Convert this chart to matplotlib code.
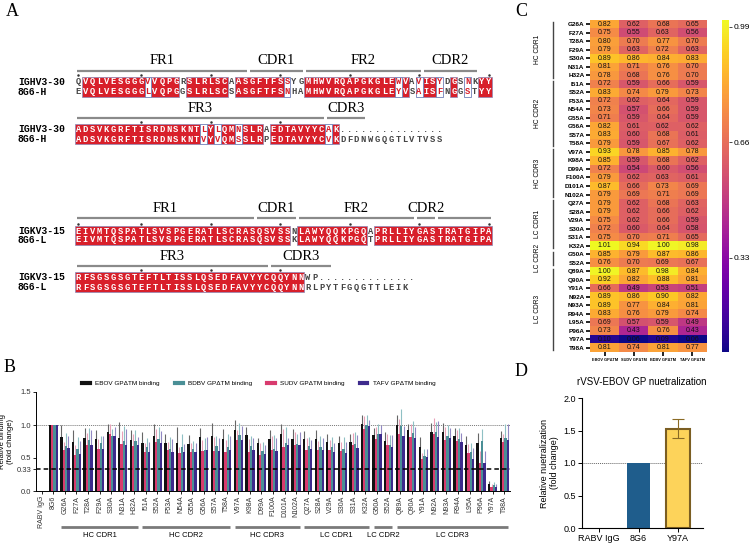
import numpy as np
import matplotlib
matplotlib.use("Agg")
import matplotlib.pyplot as plt
from matplotlib.patches import Rectangle
from matplotlib.lines import Line2D

plt.rcParams['font.family'] = ['Liberation Sans', 'DejaVu Sans']

# ---------------- data ----------------
# panel A: alignments (two wrapped lines per chain)
hc_names = ["IGHV3-30", "8G6-H"]
hc_ref = ["QVQLVESGGGVVQPGRSLRLSCAASGFTFSSYGMHWVRQAPGKGLEWVAVISYDGSNKYY",
          "ADSVKGRFTISRDNSKNTLYLQMNSLRAEDTAVYYCAK..............."]
hc_mut = ["EVQLVESGGGLVQPGGSLRLSCSASGFTFSNHAMHWVRQAPGKGLEYVSAISFNGGSTYY",
          "ADSVKGRFTISRDNSKNTVYVQMSSLRPEDTAVYYCVKDFDNWGQGTLVTVSS"]
hc_regions = [[("FR1", 0, 24), ("CDR1", 25, 32), ("FR2", 33, 49), ("CDR2", 50, 57)],
              [("FR3", 0, 35), ("CDR3", 36, 41)]]

lc_names = ["IGKV3-15", "8G6-L"]
lc_ref = ["EIVMTQSPATLSVSPGERATLSCRASQSVSSNLAWYQQKPGQAPRLLIYGASTRATGIPA",
          "RFSGSGSGTEFTLTISSLQSEDFAVYYCQQYNNWP.............."]
lc_mut = ["EIVMTQSPATLSVSPGERATLSCRASQSVSSKLAWYQQKPGQTPRLLIYGASTRATGIPA",
          "RFSGSGSGTEFTLTISSLQSEDFAVYYCQQYNNRLPYTFGQGTTLEIK"]
lc_regions = [[("FR1", 0, 25), ("CDR1", 26, 31), ("FR2", 32, 48), ("CDR2", 49, 51), ("", 52, 59)],
              [("FR3", 0, 27), ("CDR3", 28, 36)]]

similar_pairs = [{"V", "L"}, {"S", "N"}, {"W", "Y"}, {"V", "A"}, {"Y", "F"}]
dot_cols = [[0, 9, 19, 29, 39, 49, 59], [9, 19, 29]]

# panels B / C: binding
mutants = ["G26A", "F27A", "T28A", "F29A", "S30A", "N31A", "H32A",
           "I51A", "S52A", "F53A", "N54A", "G55A", "G56A", "S57A", "T58A",
           "V97A", "K98A", "D99A", "F100A", "D101A", "N102A",
           "Q27A", "S28A", "V29A", "S30A", "S31A", "K32A",
           "G50A", "S52A",
           "Q89A", "Q90A", "Y91A", "N92A", "N93A", "R94A", "L95A", "P96A", "Y97A", "T98A"]
groups = ["HC CDR1", "HC CDR2", "HC CDR3", "LC CDR1", "LC CDR2", "LC CDR3"]
group_sizes = [7, 8, 6, 6, 2, 10]

ebov = [0.82, 0.75, 0.80, 0.79, 0.89, 0.81, 0.78,
        0.72, 0.83, 0.72, 0.73, 0.71, 0.82, 0.83, 0.79,
        0.93, 0.85, 0.72, 0.79, 0.87, 0.79,
        0.79, 0.79, 0.75, 0.72, 0.75, 1.01,
        0.85, 0.76,
        1.00, 0.92, 0.66, 0.89, 0.89, 0.83, 0.69, 0.73, 0.10, 0.81]
sudv = [0.62, 0.55, 0.70, 0.63, 0.86, 0.71, 0.68,
        0.59, 0.74, 0.62, 0.57, 0.59, 0.61, 0.60, 0.59,
        0.78, 0.59, 0.54, 0.62, 0.66, 0.69,
        0.62, 0.62, 0.62, 0.60, 0.70, 0.94,
        0.79, 0.70,
        0.87, 0.82, 0.49, 0.86, 0.77, 0.76, 0.57, 0.43, 0.06, 0.74]
bdbv = [0.68, 0.63, 0.77, 0.72, 0.84, 0.76, 0.76,
        0.66, 0.79, 0.64, 0.66, 0.64, 0.62, 0.68, 0.67,
        0.85, 0.68, 0.60, 0.63, 0.73, 0.71,
        0.68, 0.66, 0.66, 0.64, 0.71, 1.00,
        0.87, 0.69,
        0.98, 0.88, 0.53, 0.90, 0.84, 0.79, 0.59, 0.76, 0.09, 0.81]
tafv = [0.65, 0.56, 0.70, 0.63, 0.83, 0.70, 0.70,
        0.59, 0.73, 0.59, 0.59, 0.59, 0.62, 0.61, 0.62,
        0.78, 0.62, 0.56, 0.61, 0.69, 0.69,
        0.63, 0.62, 0.59, 0.58, 0.65, 0.98,
        0.86, 0.67,
        0.84, 0.81, 0.51, 0.82, 0.81, 0.74, 0.49, 0.43, 0.06, 0.77]

ebov_err = [0.18, 0.17, 0.16, 0.14, 0.13, 0.24, 0.14, 0.17, 0.19, 0.15, 0.24, 0.14, 0.13, 0.20, 0.15,
            0.14, 0.12, 0.08, 0.14, 0.14, 0.15, 0.12, 0.13, 0.12, 0.12, 0.12, 0.14, 0.10, 0.14,
            0.15, 0.10, 0.16, 0.14, 0.14, 0.12, 0.15, 0.15, 0.05, 0.10]
sudv_err = [0.12, 0.14, 0.18, 0.16, 0.15, 0.20, 0.18, 0.14, 0.20, 0.12, 0.10, 0.14, 0.16, 0.22, 0.18,
            0.14, 0.20, 0.18, 0.22, 0.28, 0.20, 0.18, 0.14, 0.16, 0.15, 0.18, 0.20, 0.18, 0.16,
            0.22, 0.20, 0.08, 0.24, 0.20, 0.16, 0.14, 0.18, 0.04, 0.12]
bdbv_err = [0.20, 0.19, 0.19, 0.12, 0.10, 0.22, 0.16, 0.14, 0.18, 0.18, 0.20, 0.12, 0.18, 0.16, 0.20,
            0.18, 0.16, 0.14, 0.22, 0.24, 0.16, 0.14, 0.18, 0.16, 0.18, 0.18, 0.15, 0.14, 0.16,
            0.26, 0.18, 0.10, 0.14, 0.16, 0.16, 0.14, 0.18, 0.05, 0.20]
tafv_err = [0.18, 0.20, 0.22, 0.20, 0.14, 0.24, 0.12, 0.15, 0.18, 0.20, 0.12, 0.14, 0.20, 0.20, 0.22,
            0.20, 0.18, 0.14, 0.20, 0.12, 0.20, 0.14, 0.18, 0.14, 0.16, 0.20, 0.10, 0.14, 0.18,
            0.14, 0.16, 0.12, 0.24, 0.14, 0.14, 0.16, 0.18, 0.04, 0.24]

controls = ["RABV IgG", "8G6"]
control_binding = [0.0, 1.0]
heat_cols = ["EBOV GPΔTM", "SUDV GPΔTM", "BDBV GPΔTM", "TAFV GPΔTM"]

# panel D: neutralization
d_labels = ["RABV IgG", "8G6", "Y97A"]
d_values = [0.0, 1.0, 1.53]
d_err = [0.0, 0.0, 0.15]

# ---------------- layout helpers ----------------
W, H = 750, 545
RED = "#d81f2a"
X0, DX = 75, 6.95


def rect(x0, y0, x1, y1):
    return [x0 / W, 1 - y1 / H, (x1 - x0) / W, (y1 - y0) / H]


fig = plt.figure(figsize=(7.5, 5.45), dpi=100)
axA = fig.add_axes([0, 0, 1, 1])
axA.set_xlim(0, W)
axA.set_ylim(H, 0)
axA.axis("off")


def draw_line(ax, names, ref, mut, regions, dots, y_head, y_bar, y_rows):
    n = max(len(ref), len(mut))
    ref = ref.ljust(n)
    mut = mut.ljust(n)
    top, bot = y_rows[0] - 5, y_rows[1] + 4.5
    same = [ref[i] == mut[i] and ref[i] not in " ." for i in range(n)]
    i = 0
    while i < n:
        if same[i]:
            j = i
            while j < n and same[j]:
                j += 1
            ax.add_patch(Rectangle((X0 + i * DX, top), (j - i) * DX, bot - top,
                                   fc=RED, ec="#8a8ab8", lw=0.5))
            i = j
        else:
            i += 1
    for i in range(n):
        a, b = ref[i], mut[i]
        if same[i]:
            col = "white"
        elif {a, b} in similar_pairs:
            ax.add_patch(Rectangle((X0 + i * DX, top), DX, bot - top,
                                   fc="white", ec="#6f7fb8", lw=0.6))
            col = RED
        else:
            col = "#444444"
        xc = X0 + (i + 0.5) * DX
        for ch, y in zip((a, b), y_rows):
            if ch != " ":
                ax.text(xc, y, ch, ha="center", va="center", color=col,
                        fontsize=6.3, family="Liberation Mono", fontweight="bold")
    for c in dots:
        ax.plot(X0 + (c + 0.5) * DX, top - 2.5, marker=".", ms=1.6, color="#333333")
    for name, s, e in regions:
        ax.plot([X0 + s * DX + 1.5, X0 + (e + 1) * DX - 1.5], [y_bar, y_bar],
                color="#8a8a8a", lw=1.6, solid_capstyle="butt")
        if name:
            ax.text(X0 + (s + e + 1) / 2 * DX, y_head, name, ha="center", va="center",
                    fontsize=10.5, family="Liberation Serif")
    for name, y in zip(names, y_rows):
        ax.text(18, y, name, ha="left", va="center", fontsize=7,
                family="Liberation Mono", fontweight="bold")


draw_line(axA, hc_names, hc_ref[0], hc_mut[0], hc_regions[0], dot_cols[0], 60, 71, (82, 92))
draw_line(axA, hc_names, hc_ref[1], hc_mut[1], hc_regions[1], dot_cols[1], 108, 118, (129, 139))
draw_line(axA, lc_names, lc_ref[0], lc_mut[0], lc_regions[0], dot_cols[0], 208, 218, (231, 240))
draw_line(axA, lc_names, lc_ref[1], lc_mut[1], lc_regions[1], dot_cols[1], 256, 266, (277, 287))

for lab, (px, py) in zip("ABCD", [(12, 11), (10, 367), (521, 11), (521, 372)]):
    axA.text(px, py, lab, ha="center", va="center", fontsize=13, family="Liberation Serif")

# ---------------- panel B ----------------
axB = fig.add_axes(rect(36, 392, 510, 491))
labels_b = controls + mutants
x = np.arange(len(labels_b))
series = [(ebov, ebov_err, "#111111", "#666666", "EBOV GPΔTM binding"),
          (sudv, sudv_err, "#d83b6e", "#eaa0b8", "SUDV GPΔTM binding"),
          (bdbv, bdbv_err, "#4a8f96", "#8fc0c4", "BDBV GPΔTM binding"),
          (tafv, tafv_err, "#3d2a8c", "#9288c4", "TAFV GPΔTM binding")]
offsets = [-0.3, -0.1, 0.1, 0.3]
handles = {}
for (vals, errs, col, ecol, name), off in zip(series, offsets):
    v = np.array(control_binding + vals)
    e = np.array([0.0, 0.0] + errs)
    axB.errorbar(x + off, v, yerr=[np.zeros_like(e), e], fmt="none", ecolor=ecol,
                 elinewidth=0.8, capsize=0, zorder=1)
    axB.bar(x + off, v, width=0.2, color=col, zorder=2)
    handles[name] = Line2D([], [], color=col, lw=3)
axB.axhline(1.0, color="#777777", ls=(0, (1, 1)), lw=0.7, zorder=0)
axB.axhline(0.33, color="black", ls=(0, (3, 2)), lw=1.1, zorder=3)
axB.set_xlim(-0.5, len(labels_b) - 0.5)
axB.set_ylim(0, 1.5)
axB.set_yticks([0.0, 0.33, 0.5, 1.0, 1.5])
axB.set_yticklabels(["0.0", "0.33", "0.5", "1.0", "1.5"], fontsize=5.5, color="#333333")
axB.set_xticks(x)
axB.set_xticklabels(labels_b, rotation=90, fontsize=5, color="#333333")
axB.tick_params(length=2, width=0.6, pad=1.5)
for s in ("top", "right"):
    axB.spines[s].set_visible(False)
for s in ("left", "bottom"):
    axB.spines[s].set_linewidth(0.7)
axB.set_ylabel("Relative binding\n(fold change)", fontsize=5.5, labelpad=2)
order = ["EBOV GPΔTM binding", "BDBV GPΔTM binding", "SUDV GPΔTM binding", "TAFV GPΔTM binding"]
axB.legend([handles[k] for k in order], order, ncol=4, frameon=False, fontsize=4.6,
           loc="center", bbox_to_anchor=(0.47, 1.09), handlelength=1.2, columnspacing=2.4)
start = 2
for g, n in zip(groups, group_sizes):
    axB.plot([start - 0.3, start + n - 1 + 0.3], [-0.36, -0.36], color="#7a7a7a", lw=2,
             transform=axB.get_xaxis_transform(), clip_on=False, solid_capstyle="butt")
    axB.text(start + (n - 1) / 2, -0.45, g, ha="center", va="center", fontsize=5.5,
             transform=axB.get_xaxis_transform())
    start += n

# ---------------- panel C ----------------
axC = fig.add_axes(rect(590, 20, 707, 352))
M = np.array([ebov, sudv, bdbv, tafv]).T
im = axC.imshow(M, cmap="plasma", vmin=0.06, vmax=1.01, aspect="auto", interpolation="nearest")
for r in range(M.shape[0]):
    for c in range(M.shape[1]):
        axC.text(c, r, f"{M[r, c]:.2f}", ha="center", va="center", fontsize=5, color="#111111")
axC.set_yticks(np.arange(len(mutants)))
axC.set_yticklabels(mutants, fontsize=4.6, fontweight="bold")
axC.set_xticks(np.arange(len(heat_cols)))
axC.set_xticklabels(heat_cols, fontsize=2.8, fontweight="bold")
axC.tick_params(axis="y", length=3, width=1.2, pad=1)
axC.tick_params(axis="x", length=3, width=1.2, pad=1)
for s in axC.spines.values():
    s.set_visible(False)
start = 0
for g, n in zip(groups, group_sizes):
    axC.plot([-0.32, -0.32], [start - 0.3, start + n - 0.7], color="#444444", lw=1,
             transform=axC.get_yaxis_transform(), clip_on=False)
    axC.text(-0.45, start + (n - 1) / 2, g, rotation=90, ha="center", va="center",
             fontsize=4.8, transform=axC.get_yaxis_transform())
    start += n

cax = fig.add_axes(rect(722, 20, 729, 352))
cb = fig.colorbar(im, cax=cax, ticks=[0.33, 0.66, 0.99])
cb.outline.set_visible(False)
cb.ax.tick_params(labelsize=6, length=2, width=0.5, pad=1)

# ---------------- panel D ----------------
axD = fig.add_axes(rect(582, 398, 703, 528))
xd = np.arange(len(d_labels))
axD.bar(xd, d_values, width=0.6, color=["#ffffff", "#1f5d8c", "#fdd35a"],
        edgecolor=["none", "none", "#7b5e22"], linewidth=1.5, zorder=2)
axD.errorbar(xd[2:], d_values[2:], yerr=d_err[2:], fmt="none", ecolor="#8a6a24",
             elinewidth=0.8, capsize=4, capthick=0.8, zorder=3)
axD.axhline(1.0, color="#666666", ls=(0, (1, 1)), lw=0.7, zorder=1)
axD.set_xlim(-0.43, 2.63)
axD.set_ylim(0, 2.0)
axD.set_yticks([0.0, 0.5, 1.0, 1.5, 2.0])
axD.set_xticks(xd)
axD.set_xticklabels(d_labels, fontsize=6.5)
axD.tick_params(labelsize=6.5, length=3, width=0.7, pad=1.5)
for s in ("top", "right"):
    axD.spines[s].set_visible(False)
axD.set_ylabel("Relative nuetralization\n(fold change)", fontsize=6.5, labelpad=3)
fig.text(642 / W, 1 - 382 / H, "rVSV-EBOV GP nuetralization", ha="center", va="center",
         fontsize=7)

fig.savefig("out.png", dpi=100)
